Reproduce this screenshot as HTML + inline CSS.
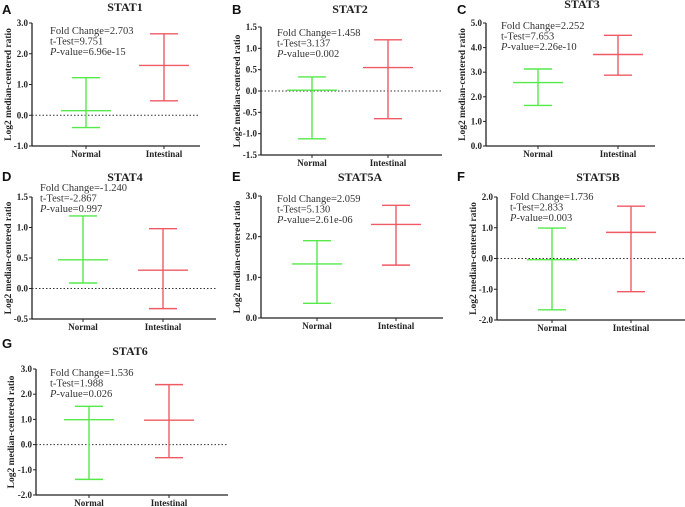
<!DOCTYPE html>
<html><head><meta charset="utf-8"><style>
html,body{margin:0;padding:0;background:#fff;}
svg{display:block;}
.tk{font:bold 9px "Liberation Serif",serif;fill:#222;}
.ttl{font:bold 12px "Liberation Serif",serif;fill:#222;}
.st{font:10.5px "Liberation Serif",serif;fill:#333;}
.yl{font:bold 9.5px "Liberation Serif",serif;fill:#222;}
.pl{font:bold 13px "Liberation Sans",sans-serif;fill:#111;}
</style></head><body>
<svg id="chart" width="685" height="507" viewBox="0 0 685 507" xmlns="http://www.w3.org/2000/svg"></svg>
<script>
const genes = ["STAT1","STAT2","STAT3","STAT4","STAT5A","STAT5B","STAT6"];
const panelLetters = ["A","B","C","D","E","F","G"];
const categories = ["Normal","Intestinal"];
const normalMean = [0.15, 0.02, 2.58, 0.47, 1.33, -0.04, 0.99];
const normalLow  = [-0.40, -1.12, 1.65, 0.09, 0.36, -1.67, -1.38];
const normalHigh = [1.22, 0.33, 3.13, 1.19, 1.90, 0.99, 1.52];
const intMean = [1.62, 0.55, 3.72, 0.30, 2.30, 0.85, 0.97];
const intLow  = [0.47, -0.65, 2.88, -0.33, 1.30, -1.08, -0.52];
const intHigh = [2.65, 1.20, 4.50, 0.98, 2.77, 1.70, 2.38];
const foldChange = ["2.703","1.458","2.252","-1.240","2.059","1.736","1.536"];
const tTest = ["9.751","3.137","7.653","-2.867","5.130","2.833","1.988"];
const pValue = ["6.96e-15","0.002","2.26e-10","0.997","2.61e-06","0.003","0.026"];
const yMin = [-1, -1.5, 0, -0.5, 0, -2, -2];
const yMax = [3, 1.5, 5, 1.5, 3, 2, 3];
const yStep = [1, 0.5, 1, 0.5, 1, 1, 1];
const tickDecimals = [1,1,1,1,1,1,1];

const L = [
 {ax:32, top:23, bot:146, xend:200, c0:86, c1:164, tx:50, ty:34, ttx:125, tty:11, lx:2, ly:14, ylx:11},
 {ax:261, top:27, bot:155, xend:442, c0:312, c1:388, tx:277, ty:36, ttx:350, tty:13, lx:232, ly:14, ylx:240},
 {ax:486, top:23, bot:146, xend:655, c0:538, c1:618, tx:501, ty:29, ttx:582, tty:8, lx:457, ly:14, ylx:465},
 {ax:32, top:197, bot:319, xend:216, c0:83, c1:163, tx:40, ty:191, ttx:125, tty:181, lx:2, ly:181, ylx:11},
 {ax:261, top:196, bot:318, xend:443, c0:317, c1:396, tx:277, ty:202, ttx:360, tty:181, lx:232, ly:181, ylx:240},
 {ax:497, top:197, bot:320, xend:685, c0:552, c1:631, tx:510, ty:200, ttx:598, tty:181, lx:457, ly:181, ylx:476},
 {ax:36, top:369, bot:495, xend:228, c0:89, c1:169, tx:50, ty:376, ttx:130, tty:355, lx:2, ly:348, ylx:14}
];
const NS="http://www.w3.org/2000/svg";
const svg=document.getElementById('chart');
function mk(tag,attrs,parent,text){const e=document.createElementNS(NS,tag);for(const k in attrs)e.setAttribute(k,attrs[k]);if(text!==undefined)e.textContent=text;parent.appendChild(e);return e;}
const GREEN="#55ea4a", RED="#ef5a63";
genes.forEach((g,i)=>{
  const l=L[i];
  const grp=mk('g',{},svg);
  
  
  const y=v=>l.bot-(v-yMin[i])/(yMax[i]-yMin[i])*(l.bot-l.top);
  const t=mk('text',{x:l.lx,y:l.ly,class:'pl'},grp,panelLetters[i]);
  
  
  const tt=mk('text',{x:l.ttx,y:l.tty,class:'ttl','text-anchor':'middle'},grp,g);
  
  
  const ya=mk('line',{x1:l.ax,y1:l.top,x2:l.ax,y2:l.bot,stroke:'#222','stroke-width':1.3},grp);
  
  
  const xa=mk('line',{x1:l.ax,y1:l.bot,x2:l.xend,y2:l.bot,stroke:'#222','stroke-width':1.3},grp);
  
  
  for(let v=yMin[i];v<=yMax[i]+1e-9;v+=yStep[i]){
    const yy=y(v);
    mk('line',{x1:l.ax-3,y1:yy,x2:l.ax,y2:yy,stroke:'#222','stroke-width':1},grp);
    const tl=mk('text',{x:l.ax-4,y:yy+3,class:'tk','text-anchor':'end'},grp,v.toFixed(tickDecimals[i]));
    
    
  }
  if(yMin[i]<0){
    const z=mk('line',{x1:l.ax,y1:y(0),x2:l.xend,y2:y(0),stroke:'#333','stroke-width':1,'stroke-dasharray':'1.5,2'},grp);
    
    
  }
  const ylab=mk('text',{x:0,y:0,class:'yl','text-anchor':'middle',transform:`translate(${l.ylx},${(l.top+l.bot)/2}) rotate(-90)`},grp,'Log2 median-centered ratio');
  
  
  const s1=mk('text',{x:l.tx,y:l.ty,class:'st'},grp,'Fold Change='+foldChange[i]);
  
  
  const s2=mk('text',{x:l.tx,y:l.ty+10.5,class:'st'},grp,'t-Test='+tTest[i]);
  
  
  const s3=mk('text',{x:l.tx,y:l.ty+21,class:'st'},grp);
  
  
  mk('tspan',{'font-style':'italic'},s3,'P');
  mk('tspan',{},s3,'-value='+pValue[i]);
  const series=[[normalMean[i],normalLow[i],normalHigh[i],l.c0,GREEN],[intMean[i],intLow[i],intHigh[i],l.c1,RED]];
  series.forEach((s,j)=>{
    const [m,lo,hi,cx,col]=s;
    mk('line',{x1:cx,y1:l.bot,x2:cx,y2:l.bot+3,stroke:'#222','stroke-width':1},grp);
    const cl=mk('text',{x:cx,y:l.bot+11,class:'tk','text-anchor':'middle'},grp,categories[j]);
    
    
    const eb=mk('g',{stroke:col,'stroke-width':1.4},grp);
    
    
    mk('line',{x1:cx,y1:y(lo),x2:cx,y2:y(hi)},eb);
    mk('line',{x1:cx-14,y1:y(lo),x2:cx+14,y2:y(lo)},eb);
    mk('line',{x1:cx-14,y1:y(hi),x2:cx+14,y2:y(hi)},eb);
    mk('line',{x1:cx-25,y1:y(m),x2:cx+25,y2:y(m)},eb);
  });
});
</script>
</body></html>
